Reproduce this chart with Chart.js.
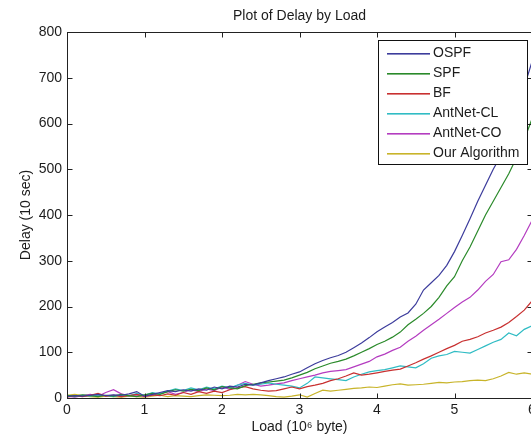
<!DOCTYPE html>
<html>
<head>
<meta charset="utf-8">
<script src="https://cdn.jsdelivr.net/npm/chart.js@4.4.0/dist/chart.umd.min.js"></script>
<style>
html, body { margin: 0; padding: 0; background: #fff; overflow: hidden; }
canvas { display: block; }
</style>
</head>
<body>
<canvas id="delayChart" width="599" height="442"></canvas>
<script>
// load in 10^6 byte, sampled every 0.1
var loads = [0.0, 0.1, 0.2, 0.3, 0.4, 0.5, 0.6, 0.7, 0.8, 0.9,
             1.0, 1.1, 1.2, 1.3, 1.4, 1.5, 1.6, 1.7, 1.8, 1.9,
             2.0, 2.1, 2.2, 2.3, 2.4, 2.5, 2.6, 2.7, 2.8, 2.9,
             3.0, 3.1, 3.2, 3.3, 3.4, 3.5, 3.6, 3.7, 3.8, 3.9,
             4.0, 4.1, 4.2, 4.3, 4.4, 4.5, 4.6, 4.7, 4.8, 4.9,
             5.0, 5.1, 5.2, 5.3, 5.4, 5.5, 5.6, 5.7, 5.8, 5.9, 6.0];

// delay in units of 10 sec
var ospf = [3, 5, 4, 6, 8, 5, 7, 6, 9, 14,
            4, 8, 12, 16, 14, 18, 15, 20, 17, 24,
            20, 26, 24, 30, 28, 33, 38, 42, 46, 52,
            57, 66, 75, 82, 88, 93, 100, 110, 120, 132,
            145, 155, 165, 177, 186, 205, 236, 252, 268, 290,
            320, 355, 392, 430, 465, 500, 530, 570, 620, 680, 735];
var spf = [6, 4, 7, 5, 3, 6, 4, 8, 5, 3,
           7, 10, 8, 14, 18, 15, 19, 16, 22, 18,
           25, 22, 20, 27, 30, 33, 35, 37, 39, 44,
           50, 56, 64, 70, 76, 80, 85, 92, 100, 108,
           117, 124, 133, 144, 160, 172, 185, 200, 220, 245,
           265, 300, 330, 365, 400, 430, 460, 490, 525, 565, 610];
var bf = [2, 5, 3, 6, 10, 4, 6, 3, 5, 8,
          4, 7, 5, 9, 6, 12, 8, 14, 10, 15,
          12, 18, 22, 25, 20, 17, 15, 16, 20, 24,
          20, 25, 28, 32, 38, 42, 48, 55, 50, 52,
          55, 58, 61, 63, 70, 77, 85, 92, 100, 108,
          115, 124, 128, 134, 142, 148, 155, 165, 178, 192, 212];
var antnetCL = [5, 3, 6, 4, 7, 5, 3, 6, 4, 10,
                6, 12, 9, 15, 20, 16, 22, 18, 24, 20,
                26, 22, 28, 32, 28, 30, 33, 30, 28, 26,
                22, 32, 46, 44, 42, 40, 38, 46, 52, 57,
                60, 62, 66, 70, 68, 66, 75, 87, 92, 95,
                102, 100, 98, 106, 114, 122, 128, 142, 136, 150, 158];
var antnetCO = [4, 2, 5, 8, 4, 12, 18, 9, 5, 7,
                3, 6, 10, 14, 8, 12, 18, 14, 20, 16,
                24, 19, 28, 36, 30, 26, 28, 31, 33, 38,
                42, 46, 50, 55, 58, 60, 62, 68, 74, 80,
                90, 96, 104, 111, 124, 135, 148, 160, 172, 185,
                198, 210, 220, 236, 255, 270, 298, 302, 325, 355, 388];
var ourAlgorithm = [6, 8, 5, 3, 2, 4, 3, 2, 4, 3,
                    2, 4, 6, 3, 5, 4, 3, 5, 7, 6,
                    5, 6, 8, 7, 8, 7, 5, 3, 2, 4,
                    7, 2, 10, 17, 15, 17, 19, 21, 22, 24,
                    23, 26, 29, 31, 28, 29, 30, 32, 34, 33,
                    35, 36, 38, 39, 38, 42, 48, 56, 52, 55, 52];

var seriesNames = ['OSPF', 'SPF', 'BF', 'AntNet-CL', 'AntNet-CO', 'Our Algorithm'];
var seriesValues = [ospf, spf, bf, antnetCL, antnetCO, ourAlgorithm];
var colours = ['#3c3c9c', '#2a8a2a', '#c83030', '#30bcc4', '#b43cc0', '#c8b42a'];

var xTicks = [0, 1, 2, 3, 4, 5, 6];
var yTicks = [0, 100, 200, 300, 400, 500, 600, 700, 800];

var FONT = {family: '"Liberation Sans", Arial, sans-serif', size: 14, weight: 'normal'};
var TEXT = '#1c1c1c';

var datasets = [];
for (var i = 0; i < seriesNames.length; i++) {
    var pts = [];
    for (var j = 0; j < loads.length; j++) {
        pts.push({x: loads[j], y: seriesValues[i][j]});
    }
    datasets.push({
        label: seriesNames[i],
        data: pts,
        borderColor: colours[i],
        borderWidth: 1.2,
        pointRadius: 0,
        fill: false,
        tension: 0
    });
}

// matlab-ish box with inward ticks, plus the legend inside the axes
var matlabFrame = {
    id: 'matlabFrame',
    afterDraw: function(chart) {
        var ctx = chart.ctx, a = chart.chartArea;
        var xs = chart.scales.x, ys = chart.scales.y;
        var L = Math.round(a.left) + 0.5, R = Math.round(a.right) + 0.5;
        var T = Math.round(a.top) + 0.5, B = Math.round(a.bottom) + 0.5;
        ctx.save();
        ctx.strokeStyle = '#222';
        ctx.lineWidth = 1;
        ctx.strokeRect(L, T, R - L, B - T);
        ctx.beginPath();
        xTicks.forEach(function(v) {
            var px = Math.round(xs.getPixelForValue(v)) + 0.5;
            ctx.moveTo(px, B); ctx.lineTo(px, B - 5);
            ctx.moveTo(px, T); ctx.lineTo(px, T + 5);
        });
        yTicks.forEach(function(v) {
            var py = Math.round(ys.getPixelForValue(v)) + 0.5;
            ctx.moveTo(L, py); ctx.lineTo(L + 5, py);
            ctx.moveTo(R, py); ctx.lineTo(R - 5, py);
        });
        ctx.stroke();

        // legend box
        var bx = 378.5, by = 40.5, bw = 149, bh = 124;
        ctx.fillStyle = '#fff';
        ctx.fillRect(bx, by, bw, bh);
        ctx.strokeStyle = '#111';
        ctx.strokeRect(bx, by, bw, bh);
        ctx.font = FONT.size + 'px ' + FONT.family;
        ctx.textBaseline = 'middle';
        ctx.textAlign = 'left';
        for (var k = 0; k < seriesNames.length; k++) {
            var yy = 53 + k * 20;
            ctx.fillStyle = colours[k];
            ctx.fillRect(387, yy, 43, 1.6);
            ctx.fillStyle = TEXT;
            ctx.fillText(seriesNames[k], 433, yy + 0.5);
        }
        ctx.restore();
    }
};

var ctx = document.getElementById('delayChart').getContext('2d');
var delayChart = new Chart(ctx, {
    type: 'line',
    data: {datasets: datasets},
    options: {
        responsive: false,
        animation: false,
        devicePixelRatio: 1,
        layout: {padding: 0},
        plugins: {
            legend: {display: false},
            tooltip: {enabled: false},
            title: {
                display: true,
                text: 'Plot of Delay by Load',
                color: TEXT,
                font: FONT,
                padding: {top: 8, bottom: 7.2}
            }
        },
        scales: {
            x: {
                type: 'linear',
                min: 0,
                max: 6,
                grid: {display: false, drawTicks: false},
                border: {display: false},
                afterBuildTicks: function(s) { s.ticks = xTicks.map(function(v) { return {value: v}; }); },
                afterFit: function(s) { s.height = 44; },
                ticks: {color: TEXT, font: FONT, padding: 4, maxRotation: 0},
                title: {display: true, text: 'Load (10\u2076 byte)', color: TEXT, font: FONT, padding: {top: 6, bottom: 6}}
            },
            y: {
                min: 0,
                max: 800,
                grid: {display: false, drawTicks: false},
                border: {display: false},
                afterBuildTicks: function(s) { s.ticks = yTicks.map(function(v) { return {value: v}; }); },
                afterFit: function(s) { s.width = 67; },
                ticks: {color: TEXT, font: FONT, padding: 5},
                title: {display: true, text: 'Delay (10 sec)', color: TEXT, font: FONT, padding: {top: 18, bottom: 18}}
            },
            // empty right-hand axis so the plot stays centred under the title
            yRight: {
                position: 'right',
                display: true,
                grid: {display: false},
                border: {display: false},
                ticks: {display: false},
                afterFit: function(s) { s.width = 67; }
            }
        }
    },
    plugins: [matlabFrame]
});
</script>
</body>
</html>
